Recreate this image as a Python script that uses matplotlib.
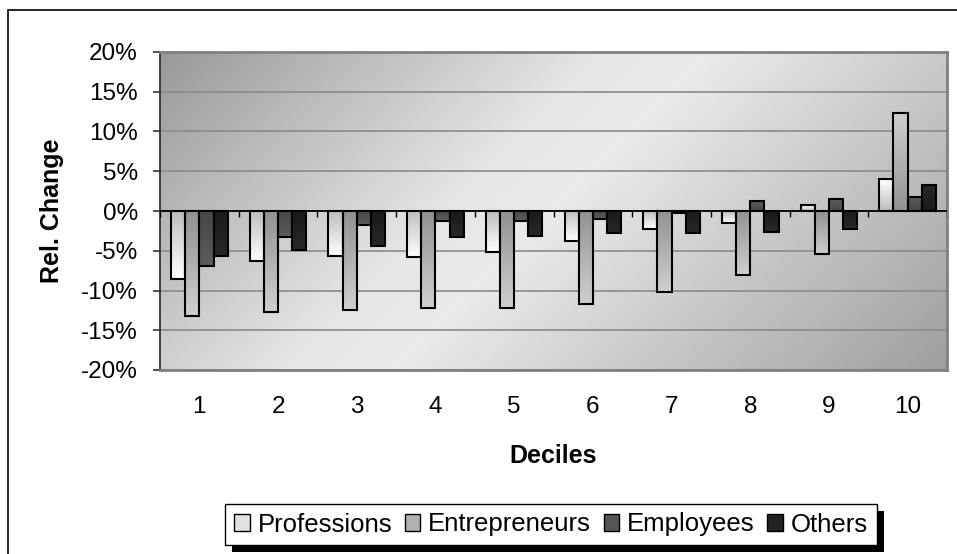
import numpy as np
import matplotlib
matplotlib.use("Agg")
import matplotlib.pyplot as plt
from matplotlib.patches import Rectangle, Patch
from matplotlib.colors import LinearSegmentedColormap
from matplotlib.ticker import FuncFormatter, MultipleLocator

plt.rcParams['font.family'] = ['Liberation Sans', 'DejaVu Sans']

deciles = ['1', '2', '3', '4', '5', '6', '7', '8', '9', '10']
series_names = ['Professions', 'Entrepreneurs', 'Employees', 'Others']
professions = [-8.6, -6.3, -5.6, -5.8, -5.1, -3.8, -2.3, -1.5, 0.7, 4.0]
entrepreneurs = [-13.2, -12.7, -12.4, -12.2, -12.2, -11.7, -10.2, -8.1, -5.4, 12.3]
employees = [-6.9, -3.3, -1.7, -1.3, -1.3, -1.0, -0.2, 1.2, 1.5, 1.8]
others = [-5.6, -4.9, -4.4, -3.3, -3.1, -2.8, -2.8, -2.6, -2.3, 3.3]
series = [professions, entrepreneurs, employees, others]
# gradient (top, bottom) colours per series
grad_colors = [('#ffffff', '#bdbdbd'), ('#cfcfcf', '#929292'),
               ('#5c5c5c', '#474747'), ('#282828', '#1a1a1a')]
legend_colors = ['#e2e2e2', '#b2b2b2', '#555555', '#222222']

W, H = 957, 554
fig = plt.figure(figsize=(W / 100, H / 100), dpi=100)
ax = fig.add_axes([160 / W, 1 - 370 / H, (947 - 160) / W, (370 - 52) / H])

# background diagonal gradient of the plot area
nx, ny = 400, 200
xx, yy = np.meshgrid(np.linspace(0, 787, nx), np.linspace(0, 318, ny))
t = (xx + yy) / (787 + 318)
vals = np.interp(t, [0, 0.4, 0.5, 1.0], [0.60, 0.90, 0.915, 0.62])
ax.imshow(vals, extent=(0, 1, 0, 1), transform=ax.transAxes, cmap='gray',
          vmin=0, vmax=1, aspect='auto', zorder=0, interpolation='bilinear')

x = np.arange(len(deciles))
width = 0.18
for k, (vals_s, (ctop, cbot)) in enumerate(zip(series, grad_colors)):
    v = np.array(vals_s) / 100.0
    bars = ax.bar(x + (k - 1.5) * width, v, width, facecolor='none',
                  edgecolor='black', linewidth=1.5, zorder=3)
    cmap = LinearSegmentedColormap.from_list('g%d' % k, [ctop, cbot])
    grad = np.linspace(0, 1, 64).reshape(-1, 1)
    for p in bars.patches:
        bb = p.get_bbox()
        im = ax.imshow(grad, extent=(bb.x0, bb.x1, bb.y0, bb.y1), cmap=cmap,
                       aspect='auto', zorder=2.5, origin='upper',
                       interpolation='bilinear')
        im.set_clip_path(p)

ax.set_xlim(-0.5, len(deciles) - 0.5)
ax.set_ylim(-0.2, 0.2)
ax.yaxis.set_major_locator(MultipleLocator(0.05))
ax.yaxis.set_major_formatter(FuncFormatter(lambda v, p: '%d%%' % int(round(v * 100))))
ax.grid(axis='y', color='#8a8a8a', linewidth=1.2, zorder=1)
ax.set_axisbelow(True)

# zero line with category boundary ticks
ax.axhline(0, color='black', linewidth=1.3, zorder=4)
bounds = np.arange(len(deciles) + 1) - 0.5
ax.vlines(bounds, -0.008, 0, color='black', linewidth=1, zorder=4)

ax.set_xticks(x)
ax.set_xticklabels(deciles)
ax.tick_params(axis='x', length=0, pad=19, labelsize=17.5)
ax.tick_params(axis='y', length=5, width=1.2, pad=11, labelsize=17.5, color='#333333')

for s in ['top', 'right', 'bottom']:
    ax.spines[s].set_color('#808080')
    ax.spines[s].set_linewidth(2)
ax.spines['left'].set_color('#333333')
ax.spines['left'].set_linewidth(1.3)

ax.set_xlabel('Deciles', fontsize=18, fontweight='bold', va='center')
ax.xaxis.set_label_coords(0.5, -(456 - 370) / 318)
ax.set_ylabel('Rel. Change', fontsize=18, fontweight='bold', va='center')
ax.yaxis.set_label_coords(-(160 - 52) / 787, 0.5)

handles = [Patch(facecolor=c, edgecolor='black', linewidth=1) for c in legend_colors]
leg = fig.legend(handles, series_names, ncol=4, loc='center',
                 bbox_to_anchor=(551 / W, 1 - 524.5 / H), fontsize=18.5,
                 frameon=True, fancybox=False, framealpha=1, edgecolor='black',
                 handlelength=0.6, handleheight=0.6, handletextpad=0.3,
                 columnspacing=0.5, borderpad=0.35, borderaxespad=0)
leg.get_frame().set_linewidth(1)
leg.set_zorder(10)

fig.canvas.draw()
bb = leg.get_window_extent()
shadow = Rectangle((bb.x0 + 7, bb.y0 - 7), bb.width, bb.height,
                   transform=None, facecolor='black', edgecolor='none', zorder=9)
fig.add_artist(shadow)

# outer chart border
fig.add_artist(Rectangle((8 / W, -0.05), 1.2, 1 - 10 / H + 0.05,
                         transform=fig.transFigure, fill=False,
                         edgecolor='black', linewidth=1.2, zorder=0))

fig.savefig('out.png', dpi=100)
